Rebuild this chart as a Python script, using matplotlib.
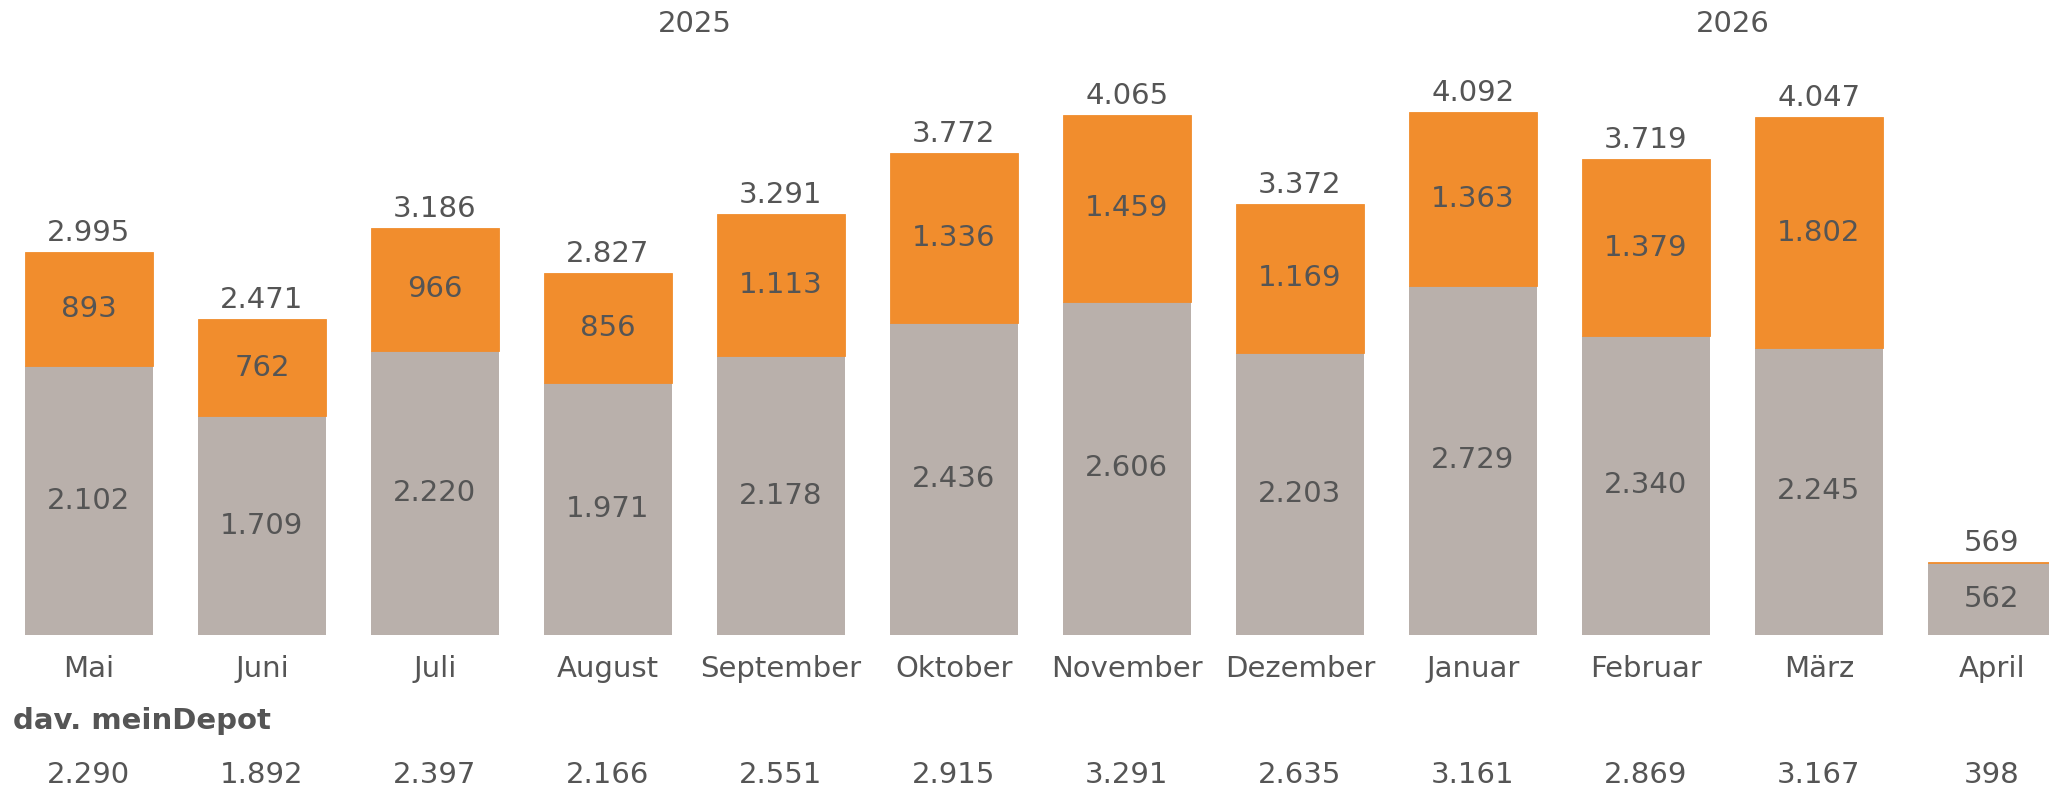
import matplotlib.pyplot as plt
from matplotlib.transforms import blended_transform_factory

# Monthly values
months = ["Mai", "Juni", "Juli", "August", "September", "Oktober", "November",
          "Dezember", "Januar", "Februar", "März", "April"]
base = [2102, 1709, 2220, 1971, 2178, 2436, 2606, 2203, 2729, 2340, 2245, 562]
extra = [893, 762, 966, 856, 1113, 1336, 1459, 1169, 1363, 1379, 1802, 7]
mein_depot = [2290, 1892, 2397, 2166, 2551, 2915, 3291, 2635, 3161, 2869, 3167, 398]
years = [("2025", 0, 7), ("2026", 8, 11)]

GREY = "#b9b0ab"
ORANGE = "#f18d2d"
TXT = "#555555"
FS = 21


def de(v):
    return f"{v:,}".replace(",", ".")


fig = plt.figure(figsize=(20.49, 7.92), dpi=100)
ax = fig.add_axes([0, 157 / 792, 1, 635 / 792])

x = list(range(len(months)))
ax.bar(x, base, width=0.74, color=GREY, linewidth=0)
ax.bar(x, extra, width=0.74, bottom=base, color=ORANGE, edgecolor=ORANGE, linewidth=0.6)

ax.set_xlim(-0.514, 11.33)
ax.set_ylim(0, 4965)
ax.axis("off")

trans = blended_transform_factory(ax.transData, ax.transAxes)

for i in x:
    total = base[i] + extra[i]
    ax.text(i, base[i] / 2, de(base[i]), ha="center", va="center", fontsize=FS, color=TXT)
    if extra[i] > 100:
        ax.text(i, base[i] + extra[i] / 2, de(extra[i]), ha="center", va="center",
                fontsize=FS, color=TXT)
    ax.annotate(de(total), (i, total), xytext=(0, 19), textcoords="offset pixels",
                ha="center", va="center", fontsize=FS, color=TXT)
    # month labels and meinDepot row
    ax.text(i, -0.0535, months[i], transform=trans, ha="center", va="center",
            fontsize=FS, color=TXT, clip_on=False)
    ax.text(i, -0.2205, de(mein_depot[i]), transform=trans, ha="center", va="center",
            fontsize=FS, color=TXT, clip_on=False)

for label, a, b in years:
    ax.text((a + b) / 2, 0.962, label, transform=trans, ha="center", va="center",
            fontsize=FS, color=TXT)

fig.text(13 / 2049, 71 / 792, "dav. meinDepot", ha="left", va="center",
         fontsize=FS, fontweight="bold", color=TXT)

fig.savefig("out.png", dpi=100)
